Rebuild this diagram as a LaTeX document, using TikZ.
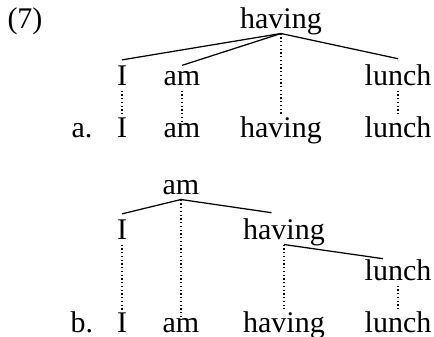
\documentclass[tikz,border=0pt]{standalone}
\usepackage{fontspec}
\setmainfont{Liberation Serif}
\begin{document}
\begin{tikzpicture}[x=0.4pt, y=-0.4pt, font=\fontsize{12}{14}\selectfont,
	word/.style={anchor=base, inner sep=2pt, text depth=0pt},
	leaf/.style={anchor=base, inner sep=0.5pt, text depth=0pt},
	tag/.style={anchor=base west, inner sep=0pt},
	tie/.style={line width=0.5pt},
	link/.style={densely dotted, line width=0.5pt}]
	\useasboundingbox (0,0) rectangle (434,336);
	
	\node[tag](EX) at (7,28){(7)};
	\node[word](HAV0) at (281,28){having};
	\node[word](I1) at (122,85){I};
	\node[word](AM1) at (182,85){am};
	\node[word](LUN1) at (398,85){lunch};
	
	\node[tag](A) at (71,137){a.};
	\node[leaf](I2) at (122,137){I};
	\node[leaf](AM2) at (182,137){am};
	\node[leaf](HAV2) at (281,137){having};
	\node[leaf](LUN2) at (398,137){lunch};
	
	\draw[tie] (I1.north) -- (HAV0.south) -- (LUN1.north);
	\draw[tie] (AM1.north) -- (HAV0.south);
	
	\draw[link] (I1.south) -- (I2.north);
	\draw[link] (AM1.south) -- (AM2.north);
	\draw[link] (HAV0.south) -- (HAV2.north);
	\draw[link] (LUN1.south) -- (LUN2.north);
	
	
	\node[word](AM3) at (181,194){am};
	\node[word](I3) at (122,239){I};
	\node[word](HAV3) at (284,239){having};
	\node[word](LUN3) at (398,280){lunch};
	
	\node[tag](B) at (70,332){b.};
	\node[leaf](I4) at (122,332){I};
	\node[leaf](AM4) at (181,332){am};
	\node[leaf](HAV4) at (284,332){having};
	\node[leaf](LUN4) at (398,332){lunch};
	
	\draw[tie] (I3.north) -- (AM3.south) -- ([xshift=-5pt]HAV3.north);
	\draw[tie] (HAV3.south) -- ([xshift=-6pt, yshift=-2pt]LUN3.north);
	
	\draw[link] (I3.south) -- (I4.north);
	\draw[link] (AM3.south) -- (AM4.north);
	\draw[link] (HAV3.south) -- (HAV4.north);
	\draw[link] (LUN3.south) -- (LUN4.north);
\end{tikzpicture}
\end{document}
